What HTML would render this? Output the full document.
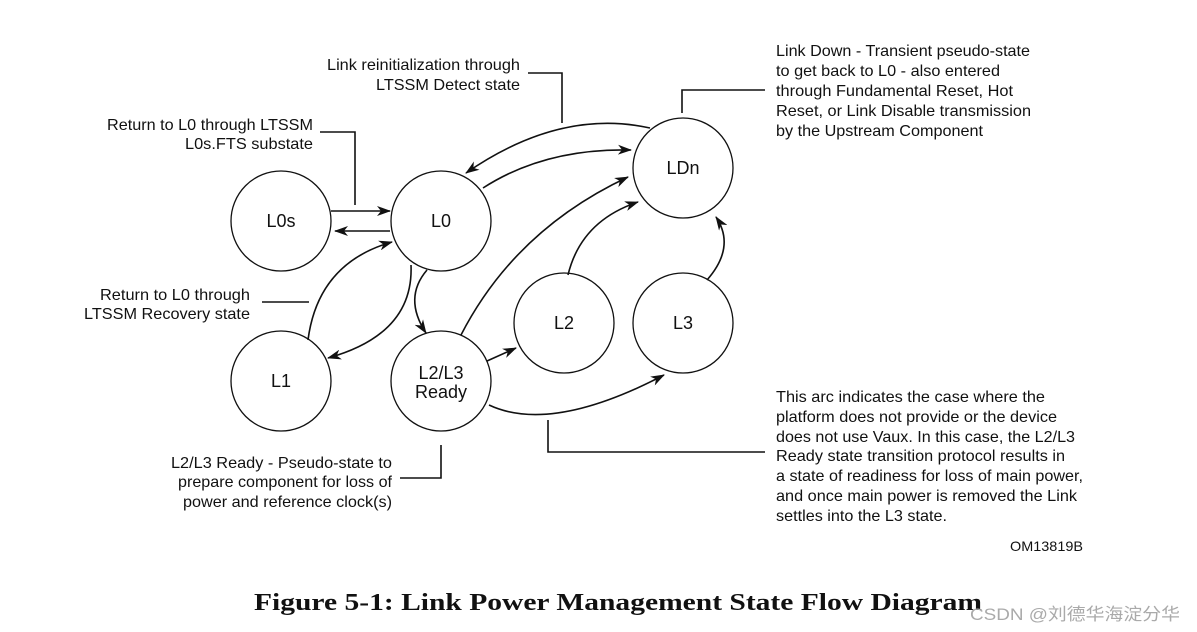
<!DOCTYPE html>
<html><head><meta charset="utf-8"><style>
html,body{margin:0;padding:0;background:#fff;}
svg{display:block;}
.t{font-family:"Liberation Sans",sans-serif;font-size:16px;fill:#111;}
.n{font-family:"Liberation Sans",sans-serif;font-size:18px;fill:#111;}
</style></head><body>
<svg width="1197" height="632" viewBox="0 0 1197 632" xmlns="http://www.w3.org/2000/svg">
<defs><marker id="a" viewBox="0 0 14 10" refX="13" refY="5" markerWidth="14" markerHeight="10" markerUnits="userSpaceOnUse" orient="auto"><path d="M0,0 L14,5 L0,10 L4,5 z" fill="#111"/></marker></defs>
<g fill="none" stroke="#111" stroke-width="1.3">
<circle cx="281" cy="221" r="50"/>
<circle cx="441" cy="221" r="50"/>
<circle cx="281" cy="381" r="50"/>
<circle cx="441" cy="381" r="50"/>
<circle cx="564" cy="323" r="50"/>
<circle cx="683" cy="323" r="50"/>
<circle cx="683" cy="168" r="50"/>
</g>
<g fill="none" stroke="#111" stroke-width="1.6" marker-end="url(#a)">
<path d="M331,211 L390,211"/>
<path d="M390,231 L335,231"/>
<path d="M650,128 Q560,108 466,173"/>
<path d="M483,188 Q545,148 631,150"/>
<path d="M461,335 Q515,230 628,177"/>
<path d="M568,275 Q581,221 638,202"/>
<path d="M707,280 Q736,247 716,217"/>
<path d="M308,340 Q318,263 392,242"/>
<path d="M411,265 Q414,334 328,358"/>
<path d="M427,270 Q403,298 426,333"/>
<path d="M487,361 L516,348"/>
<path d="M489,405 Q551,434 664,375"/>
</g>
<g fill="none" stroke="#111" stroke-width="1.6">
<path d="M528,73 H562 V123"/>
<path d="M765,90 H682 V113"/>
<path d="M320,132 H355 V205"/>
<path d="M262,302 H309"/>
<path d="M400,478 H441 V445"/>
<path d="M548,420 V452 H765"/>
</g>
<g class="n" text-anchor="middle">
<text x="281" y="227">L0s</text>
<text x="441" y="227">L0</text>
<text x="281" y="387">L1</text>
<text x="441" y="379">L2/L3</text>
<text x="441" y="398">Ready</text>
<text x="564" y="329">L2</text>
<text x="683" y="329">L3</text>
<text x="683" y="174">LDn</text>
</g>
<g class="t" text-anchor="end">
<text x="520" y="70" textLength="193" lengthAdjust="spacingAndGlyphs">Link reinitialization through</text>
<text x="520" y="90" textLength="144" lengthAdjust="spacingAndGlyphs">LTSSM Detect state</text>
<text x="313" y="130" textLength="206" lengthAdjust="spacingAndGlyphs">Return to L0 through LTSSM</text>
<text x="313" y="149" textLength="128" lengthAdjust="spacingAndGlyphs">L0s.FTS substate</text>
<text x="250" y="300" textLength="150" lengthAdjust="spacingAndGlyphs">Return to L0 through</text>
<text x="250" y="319" textLength="166" lengthAdjust="spacingAndGlyphs">LTSSM Recovery state</text>
<text x="392" y="468" textLength="221" lengthAdjust="spacingAndGlyphs">L2/L3 Ready - Pseudo-state to</text>
<text x="392" y="487" textLength="214" lengthAdjust="spacingAndGlyphs">prepare component for loss of</text>
<text x="392" y="507" textLength="209" lengthAdjust="spacingAndGlyphs">power and reference clock(s)</text>
</g>
<g class="t">
<text x="776" y="56" textLength="254" lengthAdjust="spacingAndGlyphs">Link Down - Transient pseudo-state</text>
<text x="776" y="76" textLength="224" lengthAdjust="spacingAndGlyphs">to get back to L0 - also entered</text>
<text x="776" y="96" textLength="237" lengthAdjust="spacingAndGlyphs">through Fundamental Reset, Hot</text>
<text x="776" y="116" textLength="255" lengthAdjust="spacingAndGlyphs">Reset, or Link Disable transmission</text>
<text x="776" y="136" textLength="207" lengthAdjust="spacingAndGlyphs">by the Upstream Component</text>
<text x="776" y="402" textLength="269" lengthAdjust="spacingAndGlyphs">This arc indicates the case where the</text>
<text x="776" y="422" textLength="281" lengthAdjust="spacingAndGlyphs">platform does not provide or the device</text>
<text x="776" y="442" textLength="299" lengthAdjust="spacingAndGlyphs">does not use Vaux. In this case, the L2/L3</text>
<text x="776" y="461" textLength="289" lengthAdjust="spacingAndGlyphs">Ready state transition protocol results in</text>
<text x="776" y="481" textLength="307" lengthAdjust="spacingAndGlyphs">a state of readiness for loss of main power,</text>
<text x="776" y="501" textLength="301" lengthAdjust="spacingAndGlyphs">and once main power is removed the Link</text>
<text x="776" y="521" textLength="171" lengthAdjust="spacingAndGlyphs">settles into the L3 state.</text>
<text x="1010" y="551" font-size="14" textLength="73" lengthAdjust="spacingAndGlyphs">OM13819B</text>
</g>
<text x="254" y="610" font-family="Liberation Serif,serif" font-weight="bold" font-size="24" fill="#111" textLength="728" lengthAdjust="spacingAndGlyphs">Figure 5-1:  Link Power Management State Flow Diagram</text>
<text x="970" y="620" font-family="Liberation Sans,'Noto Sans CJK SC',sans-serif" font-size="17" fill="#aaa" textLength="210" lengthAdjust="spacingAndGlyphs">CSDN @刘德华海淀分华</text>
</svg>
</body></html>
